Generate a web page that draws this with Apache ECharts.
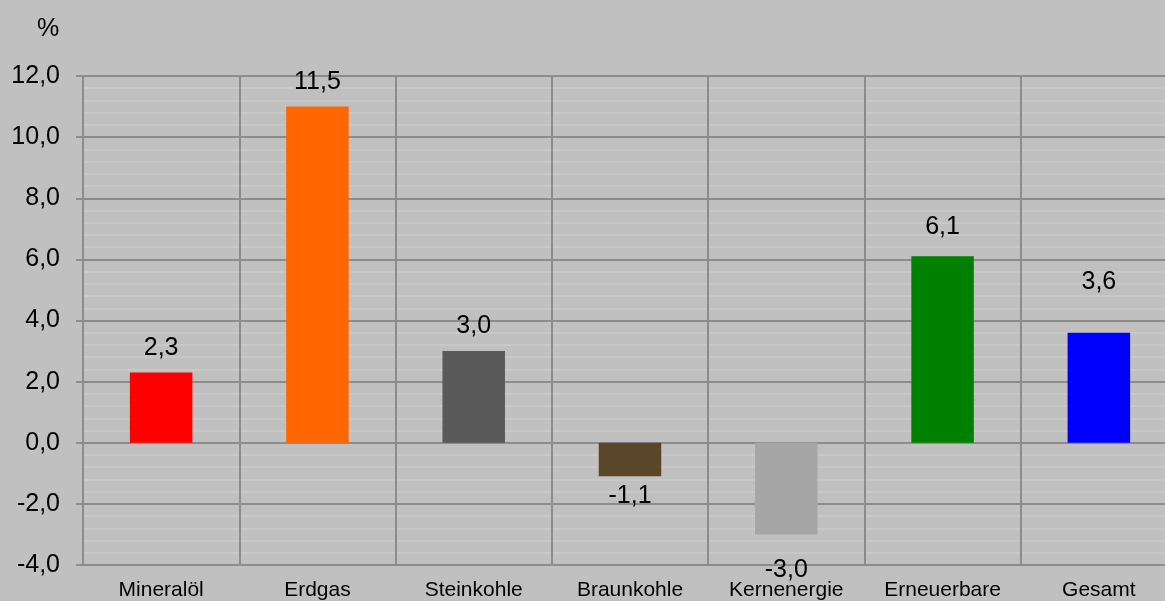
<!DOCTYPE html>
<html>
<head>
<meta charset="utf-8">
<script src="https://cdn.jsdelivr.net/npm/echarts@6/dist/echarts.min.js"></script>
<style>
html,body{margin:0;padding:0;background:#c0c0c0;overflow:hidden;}
#chart{width:1177px;height:601px;}
</style>
</head>
<body>
<div id="chart"></div>
<script>
var categories = ['Mineralöl', 'Erdgas', 'Steinkohle', 'Braunkohle', 'Kernenergie', 'Erneuerbare', 'Gesamt'];
var values = [2.3, 11.0, 3.0, -1.1, -3.0, 6.1, 3.6];
var valueLabels = ['2,3', '11,5', '3,0', '-1,1', '-3,0', '6,1', '3,6'];
var barColors = ['#ff0000', '#ff6600', '#595959', '#5a4628', '#a6a6a6', '#008000', '#0000ff'];
var yTicks = { min: -4, max: 12, interval: 2 };

var labelDist = [12, 12, 12, 7, 23, 17, 38];
var font = '"Liberation Sans", Arial, sans-serif';

var data = values.map(function (v, i) {
  return {
    value: v,
    itemStyle: { color: barColors[i] },
    label: { position: v < 0 ? 'bottom' : 'top', distance: labelDist[i] }
  };
});

var chart = echarts.init(document.getElementById('chart'));
chart.setOption({
  backgroundColor: '#c0c0c0',
  animation: false,
  textStyle: { fontFamily: font },
  title: {
    text: '%', left: 32, top: 12,
    textStyle: { fontSize: 25, fontWeight: 'normal', color: '#000', fontFamily: font }
  },
  grid: { left: 83, top: 76, right: 0, bottom: 36, containLabel: false },
  xAxis: {
    type: 'category',
    data: categories,
    axisLine: { onZero: false, lineStyle: { color: '#8c8c8c', width: 2 } },
    axisTick: { show: false },
    axisLabel: { color: '#000', fontSize: 21, margin: 15, interval: 0, fontFamily: font },
    splitLine: { show: true, interval: 0, lineStyle: { color: '#8c8c8c', width: 2 } }
  },
  yAxis: {
    type: 'value',
    min: yTicks.min, max: yTicks.max, interval: yTicks.interval,
    axisLine: { show: true, lineStyle: { color: '#8c8c8c', width: 2 } },
    axisTick: { show: true, length: 7, lineStyle: { color: '#8c8c8c', width: 2 } },
    axisLabel: {
      color: '#000', fontSize: 25, margin: 23, fontFamily: font,
      formatter: function (v) { return v.toFixed(1).replace('.', ','); }
    },
    splitLine: { show: true, lineStyle: { color: '#8c8c8c', width: 2 } },
    minorTick: { show: false, splitNumber: 5 },
    minorSplitLine: { show: true, lineStyle: { color: '#cacaca', width: 1.5 } }
  },
  series: [{
    type: 'bar',
    data: data,
    barWidth: '40%',
    label: {
      show: true, color: '#000', fontSize: 25, fontFamily: font,
      formatter: function (p) { return valueLabels[p.dataIndex]; }
    }
  }]
});
</script>
</body>
</html>
